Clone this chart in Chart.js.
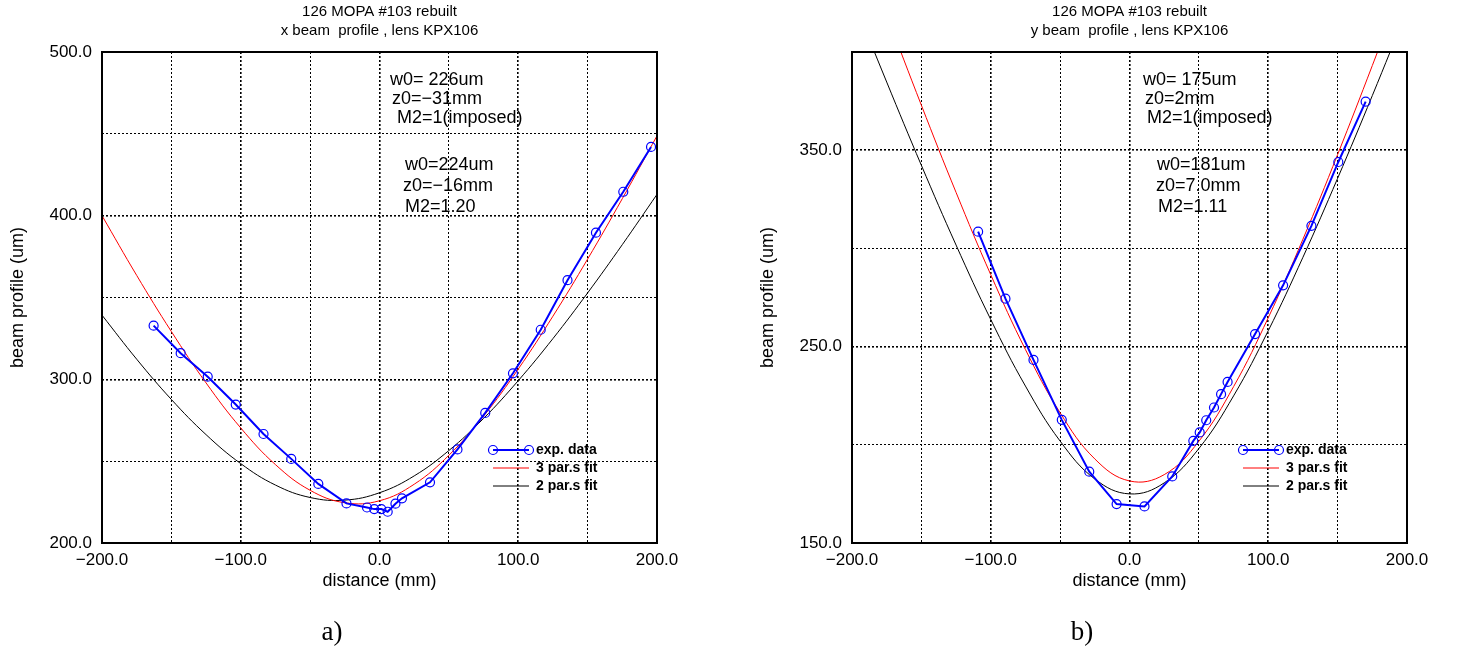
<!DOCTYPE html>
<html>
<head>
<meta charset="utf-8">
<script src="https://cdn.jsdelivr.net/npm/chart.js@4.4.0/dist/chart.umd.min.js"></script>
<style>
  html, body { margin: 0; padding: 0; background: #fff; }
  #wrap { position: relative; width: 1460px; height: 656px; }
  canvas { position: absolute; top: 0; }
  #chartX { left: 0; }
  #chartY { left: 730px; }
</style>
</head>
<body>
<div id="wrap">
  <canvas id="chartX" width="730" height="656"></canvas>
  <canvas id="chartY" width="730" height="656"></canvas>
</div>
<script>
// ---- x beam profile (panel a) ----
const xDist = [-162.8, -143.3, -123.8, -103.6, -83.6, -63.6, -44.1, -23.8, -9.0, -3.8, 1.3, 5.9,
               11.5, 16.2, 36.4, 56.2, 76.2, 96.2, 116.2, 135.5, 156.0, 175.7, 195.7];
const xBeam = [332.8, 316.0, 301.6, 284.6, 266.6, 251.4, 236.1, 224.2, 221.7, 220.7, 220.7, 219.1,
               224.0, 227.3, 237.1, 257.2, 279.5, 303.7, 330.3, 360.6, 389.6, 414.6, 442.0];

// ---- y beam profile (panel b) ----
const yDist = [-109.1, -89.4, -69.2, -48.8, -29.0, -9.3, 10.8, 30.8, 46.0, 50.6, 55.3, 60.9,
               66.0, 70.7, 90.5, 110.7, 131.1, 150.5, 170.2];
const yBeam = [308.5, 274.4, 243.2, 212.7, 186.3, 169.8, 168.6, 183.9, 202.0, 206.3, 212.5, 219.0,
               225.8, 232.0, 256.4, 281.2, 311.5, 344.0, 374.7];

const fitDist = [-200, -175, -150, -125, -100, -75, -50, -25, 0, 25, 50, 75, 100, 125, 150, 175, 200];
const xFit3 = [400.0, 363.5, 329.2, 297.8, 270.3, 247.9, 232.2, 224.6, 225.8, 235.9, 253.6, 277.5,
               306.3, 338.6, 373.5, 410.4, 448.8];
const xFit2 = [339.2, 312.3, 287.7, 266.2, 248.5, 235.4, 227.8, 226.2, 230.7, 241.0, 256.5, 276.1,
               299.2, 324.9, 352.8, 382.3, 413.0];
const yFit3 = [466.5, 419.1, 372.9, 328.5, 286.6, 248.5, 216.3, 192.8, 181.6, 184.8, 201.8, 229.6,
               264.7, 304.7, 347.8, 393.1, 439.8];
const yFit2 = [428.3, 384.7, 342.3, 301.7, 263.8, 229.9, 201.9, 182.6, 175.0, 180.6, 198.1, 224.9,
               258.1, 295.5, 335.7, 377.8, 421.3];

// labelled ticks (grid every 50)
const distTicks = [-200, -100, 0, 100, 200];
const xBeamTicks = [200, 300, 400, 500];
const yBeamTicks = [150, 250, 350];

const legendLabels = ['exp. data', '3 par.s fit', '2 par.s fit'];

const FONT = '"Liberation Sans", Arial, Helvetica, sans-serif';

function pts(xs, ys) {
    return xs.map((x, i) => ({ x: x, y: ys[i] }));
}

function fmt(v) {
    return (v < 0 ? '\u2212' : '') + Math.abs(v).toFixed(1);
}

// titles, frame, notes and legend
const extras = {
    id: 'extras',
    afterDraw(chart, args, o) {
        const ctx = chart.ctx;
        const a = chart.chartArea;
        const cx = (a.left + a.right) / 2;
        ctx.save();

        ctx.strokeStyle = '#000';
        ctx.lineWidth = 2;
        ctx.strokeRect(a.left, a.top, a.right - a.left, a.bottom - a.top);

        ctx.fillStyle = '#000';
        ctx.textAlign = 'center';
        ctx.textBaseline = 'middle';
        ctx.font = '15px ' + FONT;
        ctx.fillText(o.title[0], cx, 12);
        ctx.fillText(o.title[1], cx, 31);

        ctx.font = '18px ' + FONT;
        ctx.fillText('distance (mm)', cx, 581);
        ctx.save();
        ctx.translate(a.left - 84, (a.top + a.bottom) / 2);
        ctx.rotate(-Math.PI / 2);
        ctx.fillText('beam profile (um)', 0, 0);
        ctx.restore();

        ctx.font = '27px "Liberation Serif", "DejaVu Serif", serif';
        ctx.fillText(o.caption, a.left + 230, 633);

        // fit results
        ctx.textAlign = 'left';
        ctx.font = '18px ' + FONT;
        o.notes.forEach(n => ctx.fillText(n[0], a.left + n[1], a.top + n[2]));

        // legend
        const lx = a.left + 391, ly = a.top + 398;
        const cols = ['#0000ff', '#ff0000', '#000000'];
        ctx.font = 'bold 14px ' + FONT;
        legendLabels.forEach((lab, i) => {
            const y = ly + i * 18;
            ctx.strokeStyle = cols[i];
            ctx.lineWidth = i === 0 ? 2 : 1;
            ctx.beginPath();
            ctx.moveTo(lx, y);
            ctx.lineTo(lx + 36, y);
            ctx.stroke();
            if (i === 0) {
                ctx.lineWidth = 1.2;
                [lx, lx + 36].forEach(px => {
                    ctx.beginPath();
                    ctx.arc(px, y, 4.5, 0, Math.PI * 2);
                    ctx.stroke();
                });
            }
            ctx.fillStyle = '#000';
            ctx.fillText(lab, lx + 43, y);
        });
        ctx.restore();
    }
};

function makeChart(id, cfg) {
    const yLabelled = cfg.yTicks;
    return new Chart(document.getElementById(id), {
        type: 'line',
        data: {
            datasets: [
                {
                    data: pts(cfg.dist, cfg.beam),
                    borderColor: '#0000ff',
                    borderWidth: 2,
                    pointRadius: 4.5,
                    pointBorderWidth: 1.2,
                    pointBorderColor: '#0000ff',
                    pointBackgroundColor: 'rgba(0,0,0,0)',
                    tension: 0
                },
                {
                    data: pts(fitDist, cfg.fit3),
                    borderColor: '#ff0000',
                    borderWidth: 1,
                    pointRadius: 0,
                    tension: 0.4
                },
                {
                    data: pts(fitDist, cfg.fit2),
                    borderColor: '#000000',
                    borderWidth: 1,
                    pointRadius: 0,
                    tension: 0.4
                }
            ]
        },
        options: {
            responsive: false,
            animation: false,
            devicePixelRatio: 1,
            layout: { padding: { top: 52, left: 0, bottom: 0, right: cfg.padRight } },
            plugins: {
                legend: { display: false },
                tooltip: { enabled: false },
                extras: cfg.extras
            },
            scales: {
                x: {
                    type: 'linear',
                    min: -200,
                    max: 200,
                    afterFit: s => { s.height = 113; },
                    border: { display: false, dash: [2, 2] },
                    grid: {
                        drawTicks: false,
                        color: '#000',
                        lineWidth: c => distTicks.includes(c.tick.value) ? 1.6 : 1
                    },
                    ticks: {
                        stepSize: 50,
                        autoSkip: false,
                        maxRotation: 0,
                        padding: 7,
                        color: '#000',
                        font: { size: 17, family: FONT },
                        callback: v => distTicks.includes(v) ? fmt(v) : ''
                    }
                },
                y: {
                    min: cfg.yMin,
                    max: cfg.yMax,
                    afterFit: s => { s.width = cfg.yWidth; },
                    border: { display: false, dash: [2, 2] },
                    grid: {
                        drawTicks: false,
                        color: '#000',
                        lineWidth: c => yLabelled.includes(c.tick.value) ? 1.6 : 1
                    },
                    ticks: {
                        stepSize: 50,
                        autoSkip: false,
                        padding: 10,
                        color: '#000',
                        font: { size: 17, family: FONT },
                        callback: v => yLabelled.includes(v) ? v.toFixed(1) : ''
                    }
                }
            }
        },
        plugins: [extras]
    });
}

makeChart('chartX', {
    dist: xDist, beam: xBeam, fit3: xFit3, fit2: xFit2,
    yMin: 200, yMax: 500, yTicks: xBeamTicks, yWidth: 102, padRight: 73,
    extras: {
        title: ['126 MOPA #103 rebuilt', 'x beam  profile , lens KPX106'],
        caption: 'a)',
        notes: [
            ['w0= 226um', 288, 28], ['z0=\u221231mm', 290, 47], ['M2=1(imposed)', 295, 66],
            ['w0=224um', 303, 113], ['z0=\u221216mm', 301, 134], ['M2=1.20', 303, 155]
        ]
    }
});

makeChart('chartY', {
    dist: yDist, beam: yBeam, fit3: yFit3, fit2: yFit2,
    yMin: 150, yMax: 400, yTicks: yBeamTicks, yWidth: 122, padRight: 53,
    extras: {
        title: ['126 MOPA #103 rebuilt', 'y beam  profile , lens KPX106'],
        caption: 'b)',
        notes: [
            ['w0= 175um', 291, 28], ['z0=2mm', 293, 47], ['M2=1(imposed)', 295, 66],
            ['w0=181um', 305, 113], ['z0=7.0mm', 304, 134], ['M2=1.11', 306, 155]
        ]
    }
});
</script>
</body>
</html>
